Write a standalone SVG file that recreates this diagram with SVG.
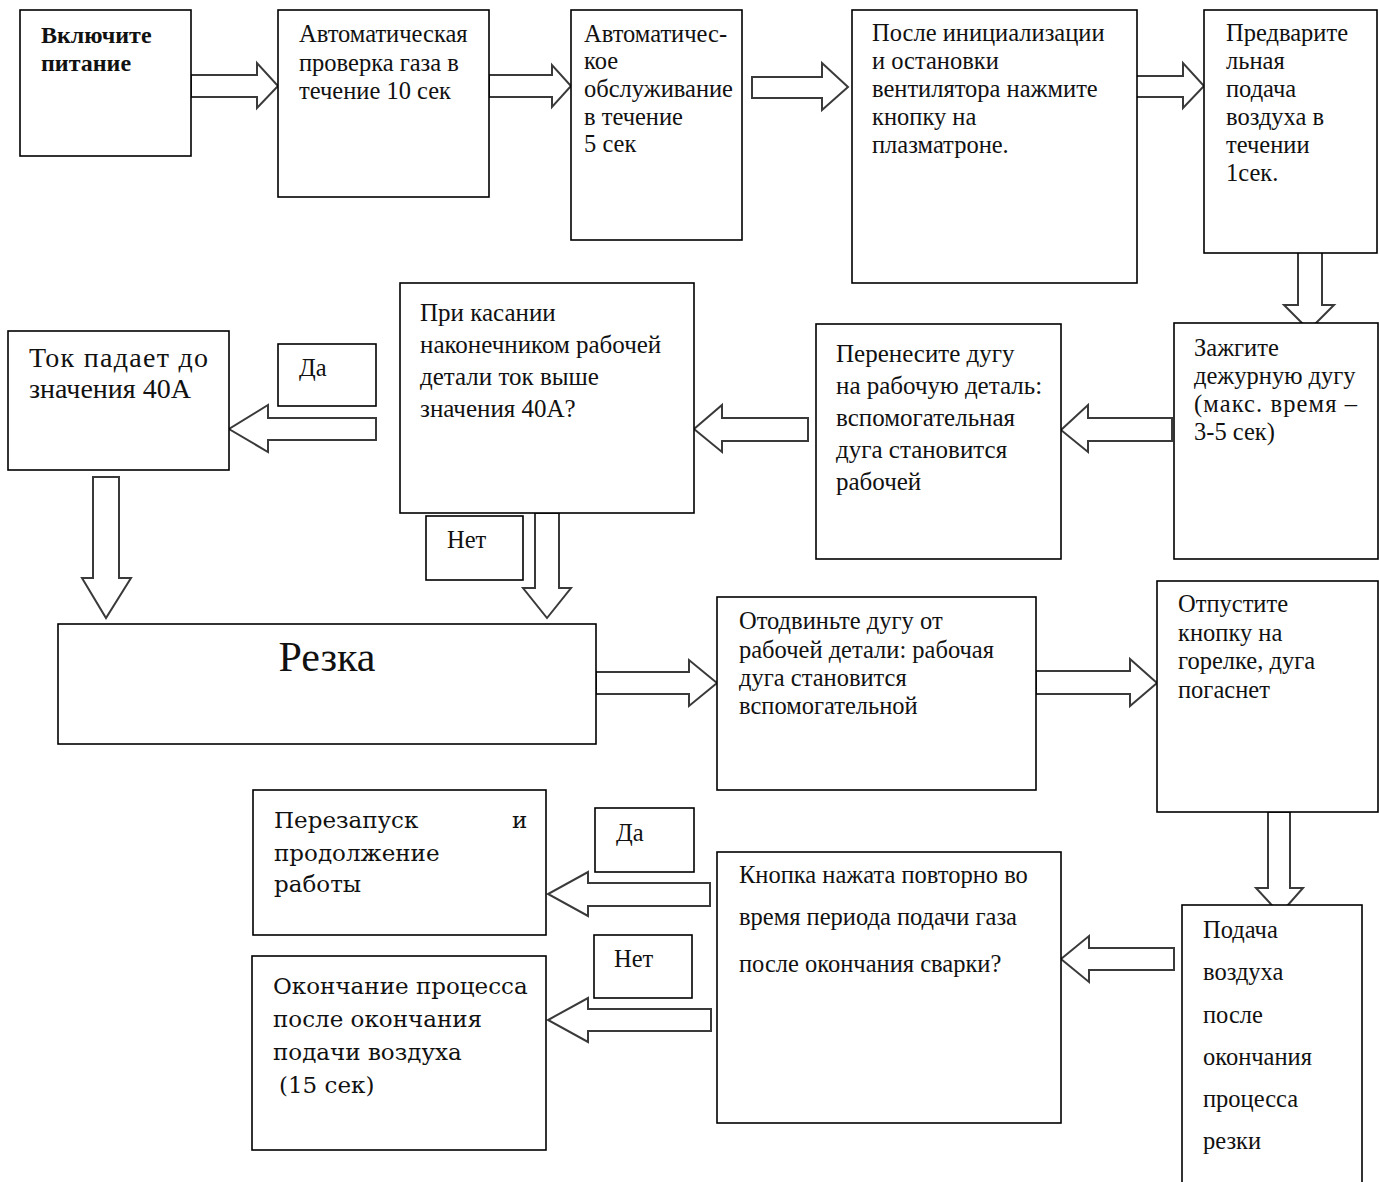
<svg xmlns="http://www.w3.org/2000/svg" width="1379" height="1182" viewBox="0 0 1379 1182">
<style>
.box{fill:#fff;stroke:#000;stroke-width:1.6}
.arr{fill:#fff;stroke:#3a3a3a;stroke-width:2;stroke-linejoin:miter}
text{font-family:"Liberation Serif","Times New Roman",serif;fill:#111}
.t21{font-size:24.5px}
.t22{font-size:25px}
.t24{font-size:28px}
.t25{font-family:"DejaVu Serif","Liberation Serif",serif;font-size:23px}
.b{font-weight:bold;font-size:24px}
</style>
<rect width="1379" height="1182" fill="#fff"/>
<g id="connectors">
<polygon class="arr" points="191,75 257,75 257,63 278,86 257,108 257,97 191,97"/>
<polygon class="arr" points="489,75 552,75 552,65 571,86 552,107 552,97 489,97"/>
<polygon class="arr" points="752,77 822,77 822,63 848,87 822,110 822,98 752,98"/>
<polygon class="arr" points="1119,76 1183,76 1183,63 1204,86 1183,108 1183,97 1119,97"/>
<polygon class="arr" points="1298,237 1322,237 1322,305 1334,305 1309,330 1284,305 1298,305"/>
<polygon class="arr" points="1172,418 1088,418 1088,405 1061,430 1088,452 1088,441 1172,441"/>
<polygon class="arr" points="808,418 722,418 722,405 694,429 722,452 722,441 808,441"/>
<polygon class="arr" points="376,418 268,418 268,405 229,429 268,452 268,440 376,440"/>
<polygon class="arr" points="93,477 119,477 119,578 131,578 106,618 82,578 93,578"/>
<polygon class="arr" points="535,513 559,513 559,588 571,588 547,618 523,588 535,588"/>
<polygon class="arr" points="596,672 689,672 689,660 717,683 689,706 689,694 596,694"/>
<polygon class="arr" points="1036,671 1130,671 1130,659 1157,683 1130,706 1130,694 1036,694"/>
<polygon class="arr" points="1268,812 1290,812 1290,888 1303,888 1280,914 1256,888 1268,888"/>
<polygon class="arr" points="1174,948 1089,948 1089,936 1061,959 1089,982 1089,970 1174,970"/>
<polygon class="arr" points="710,883 588,883 588,872 548,894 588,916 588,906 710,906"/>
<polygon class="arr" points="711,1009 588,1009 588,998 548,1020 588,1042 588,1031 711,1031"/>
</g>
<g id="n1">
<rect class="box" x="20" y="10" width="171" height="146"/>
<text class="b" x="41" y="43">Включите</text>
<text class="b" x="41" y="71">питание</text>
</g>
<g id="n2">
<rect class="box" x="278" y="10" width="211" height="187"/>
<text class="t21" x="299" y="42">Автоматическая</text>
<text class="t21" x="299" y="71">проверка газа в</text>
<text class="t21" x="299" y="99">течение 10 сек</text>
</g>
<g id="n3">
<rect class="box" x="571" y="10" width="171" height="230"/>
<text class="t21" x="584" y="42">Автоматичес-</text>
<text class="t21" x="584" y="69">кое</text>
<text class="t21" x="584" y="97">обслуживание</text>
<text class="t21" x="584" y="125">в течение</text>
<text class="t21" x="584" y="152">5 сек</text>
</g>
<g id="n4">
<rect class="box" x="852" y="10" width="285" height="273"/>
<text class="t21" x="872" y="41">После инициализации</text>
<text class="t21" x="872" y="69">и остановки</text>
<text class="t21" x="872" y="97">вентилятора нажмите</text>
<text class="t21" x="872" y="125">кнопку на</text>
<text class="t21" x="872" y="153">плазматроне.</text>
</g>
<g id="n5">
<rect class="box" x="1204" y="10" width="173" height="243"/>
<text class="t21" x="1226" y="41">Предварите</text>
<text class="t21" x="1226" y="69">льная</text>
<text class="t21" x="1226" y="97">подача</text>
<text class="t21" x="1226" y="125">воздуха в</text>
<text class="t21" x="1226" y="153">течении</text>
<text class="t21" x="1226" y="181">1сек.</text>
</g>
<g id="n6">
<rect class="box" x="1174" y="323" width="204" height="236"/>
<text class="t21" x="1194" y="356">Зажгите</text>
<text class="t21" x="1194" y="384">дежурную дугу</text>
<text class="t21" x="1194" y="412" textLength="163" lengthAdjust="spacing">(макс.  время –</text>
<text class="t21" x="1194" y="440">3-5 сек)</text>
</g>
<g id="n7">
<rect class="box" x="816" y="324" width="245" height="235"/>
<text class="t22" x="836" y="362">Перенесите дугу</text>
<text class="t22" x="836" y="394">на рабочую деталь:</text>
<text class="t22" x="836" y="426">вспомогательная</text>
<text class="t22" x="836" y="458">дуга становится</text>
<text class="t22" x="836" y="490">рабочей</text>
</g>
<g id="n8">
<rect class="box" x="400" y="283" width="294" height="230"/>
<text class="t22" x="420" y="321">При касании</text>
<text class="t22" x="420" y="353">наконечником рабочей</text>
<text class="t22" x="420" y="385">детали ток выше</text>
<text class="t22" x="420" y="417">значения 40А?</text>
</g>
<g id="n9">
<rect class="box" x="8" y="331" width="221" height="139"/>
<text class="t24" x="29" y="367" textLength="179" lengthAdjust="spacing">Ток  падает  до</text>
<text class="t24" x="29" y="398">значения 40А</text>
</g>
<g id="l1">
<rect class="box" x="278" y="344" width="98" height="62"/>
<text class="t21" x="299" y="376">Да</text>
</g>
<g id="l2">
<rect class="box" x="426" y="516" width="97" height="64"/>
<text class="t21" x="447" y="548">Нет</text>
</g>
<g id="n10">
<rect class="box" x="58" y="624" width="538" height="120"/>
<text x="327" y="671" font-size="42" text-anchor="middle">Резка</text>
</g>
<g id="n11">
<rect class="box" x="717" y="597" width="319" height="193"/>
<text class="t21" x="739" y="629">Отодвиньте дугу от</text>
<text class="t21" x="739" y="658">рабочей детали: рабочая</text>
<text class="t21" x="739" y="686">дуга становится</text>
<text class="t21" x="739" y="714">вспомогательной</text>
</g>
<g id="n12">
<rect class="box" x="1157" y="581" width="221" height="231"/>
<text class="t21" x="1178" y="612">Отпустите</text>
<text class="t21" x="1178" y="641">кнопку на</text>
<text class="t21" x="1178" y="669">горелке, дуга</text>
<text class="t21" x="1178" y="698">погаснет</text>
</g>
<g id="n13">
<rect class="box" x="1182" y="905" width="180" height="290"/>
<text class="t21" x="1203" y="938">Подача</text>
<text class="t21" x="1203" y="980">воздуха</text>
<text class="t21" x="1203" y="1023">после</text>
<text class="t21" x="1203" y="1065">окончания</text>
<text class="t21" x="1203" y="1107">процесса</text>
<text class="t21" x="1203" y="1149">резки</text>
</g>
<g id="n14">
<rect class="box" x="717" y="852" width="344" height="271"/>
<text class="t21" x="739" y="883">Кнопка нажата повторно во</text>
<text class="t21" x="739" y="925">время периода подачи газа</text>
<text class="t21" x="739" y="972">после окончания сварки?</text>
</g>
<g id="l3">
<rect class="box" x="595" y="808" width="99" height="64"/>
<text class="t21" x="616" y="841">Да</text>
</g>
<g id="l4">
<rect class="box" x="594" y="935" width="98" height="63"/>
<text class="t21" x="614" y="967">Нет</text>
</g>
<g id="n15">
<rect class="box" x="253" y="790" width="293" height="145"/>
<text class="t25" x="274" y="828">Перезапуск</text>
<text class="t25" x="512" y="828">и</text>
<text class="t25" x="274" y="861">продолжение</text>
<text class="t25" x="274" y="892">работы</text>
</g>
<g id="n16">
<rect class="box" x="252" y="956" width="294" height="194"/>
<text class="t25" x="273" y="994">Окончание процесса</text>
<text class="t25" x="273" y="1027">после окончания</text>
<text class="t25" x="273" y="1060">подачи воздуха</text>
<text class="t25" x="279" y="1093">(15 сек)</text>
</g>
</svg>
